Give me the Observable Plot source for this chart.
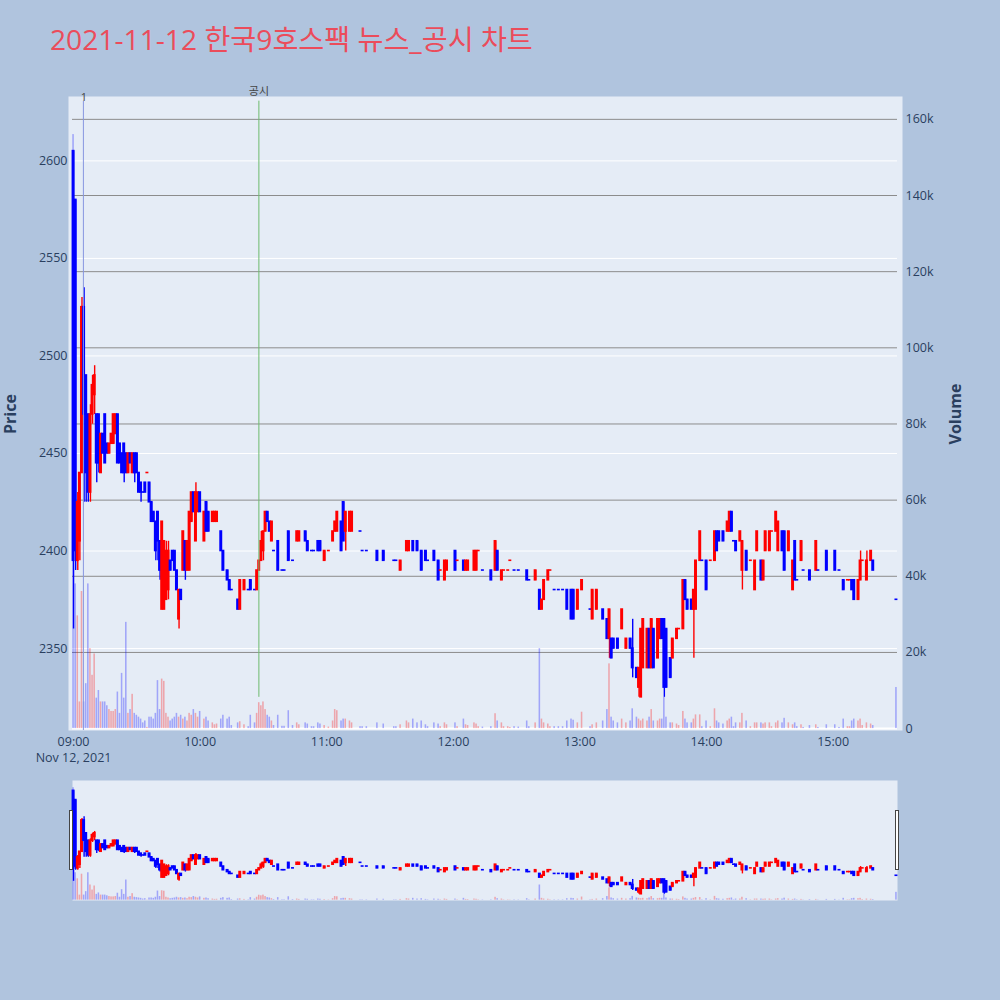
<!DOCTYPE html>
<html><head><meta charset="utf-8">
<script src="https://cdn.jsdelivr.net/npm/d3@7"></script>
<script src="https://cdn.jsdelivr.net/npm/@observablehq/plot@0.6"></script>
<style>
html,body{margin:0;padding:0;background:#B0C4DE;}
#page{position:relative;width:1000px;height:1000px;overflow:hidden;font-family:"Open Sans","Noto Sans CJK KR",sans-serif;}
#title{position:absolute;left:50px;top:25px;font-size:28.2px;line-height:28px;color:#EB4C5B;white-space:nowrap;}
.ytitle{position:absolute;font-size:16px;font-weight:bold;color:#2a3f5f;transform:translate(-50%,-50%) rotate(-90deg);white-space:nowrap;line-height:16px;}
#main{position:absolute;left:0;top:0;}
#slider{position:absolute;left:0;top:780px;}
.grab{position:absolute;top:810px;width:2px;height:58px;background:#fff;border:1px solid #444;}
</style></head>
<body><div id="page">
<div id="main"></div>
<div id="slider"></div>
<div id="title">2021-11-12 한국9호스팩 뉴스_공시 차트</div>
<div class="ytitle" style="left:9.5px;top:414px;">Price</div>
<div class="ytitle" style="left:955px;top:414px;">Volume</div>
<div class="grab" style="left:69px;"></div>
<div class="grab" style="left:895px;"></div>
</div>
<script>
const day = "2021-11-12";
const times = ["09:00","09:01","09:02","09:03","09:04","09:05","09:06","09:07","09:08","09:09","09:10","09:11","09:12","09:13","09:14","09:15","09:16","09:17","09:18","09:19","09:20","09:21","09:22","09:23","09:24","09:25","09:26","09:27","09:28","09:29","09:30","09:31","09:32","09:33","09:34","09:35","09:36","09:37","09:38","09:39","09:40","09:41","09:42","09:43","09:44","09:45","09:46","09:47","09:48","09:49","09:50","09:51","09:52","09:53","09:54","09:55","09:56","09:57","09:58","09:59","10:00","10:02","10:03","10:04","10:06","10:07","10:08","10:10","10:11","10:13","10:14","10:15","10:18","10:19","10:21","10:23","10:24","10:26","10:27","10:28","10:29","10:30","10:31","10:32","10:33","10:34","10:35","10:37","10:39","10:40","10:42","10:44","10:46","10:47","10:50","10:51","10:53","10:54","10:56","10:57","10:59","11:01","11:03","11:04","11:05","11:07","11:08","11:09","11:11","11:12","11:16","11:17","11:19","11:24","11:27","11:32","11:33","11:35","11:38","11:39","11:41","11:43","11:45","11:47","11:48","11:51","11:53","11:54","11:56","11:57","12:01","12:02","12:05","12:06","12:07","12:10","12:11","12:12","12:14","12:18","12:20","12:21","12:23","12:24","12:26","12:27","12:29","12:31","12:35","12:36","12:39","12:41","12:42","12:43","12:45","12:46","12:48","12:50","12:52","12:54","12:56","12:57","12:59","13:01","13:05","13:06","13:08","13:11","13:13","13:14","13:15","13:16","13:18","13:20","13:22","13:24","13:25","13:27","13:28","13:29","13:30","13:32","13:33","13:34","13:35","13:37","13:38","13:39","13:40","13:41","13:43","13:44","13:46","13:47","13:49","13:50","13:51","13:53","13:54","13:55","13:57","13:58","14:00","14:02","14:04","14:05","14:06","14:08","14:10","14:11","14:12","14:13","14:14","14:16","14:17","14:19","14:21","14:23","14:24","14:26","14:27","14:28","14:30","14:31","14:33","14:34","14:36","14:37","14:39","14:41","14:42","14:43","14:45","14:46","14:49","14:52","14:53","14:57","15:01","15:03","15:05","15:07","15:08","15:09","15:10","15:12","15:13","15:14","15:16","15:18","15:19","15:30"];
const open = [2605,2580,2395,2405,2440,2525,2490,2470,2430,2470,2480,2470,2470,2440,2460,2470,2455,2450,2455,2455,2460,2470,2455,2450,2455,2450,2440,2450,2440,2450,2450,2440,2435,2430,2435,2440,2435,2425,2420,2415,2420,2405,2370,2370,2375,2380,2395,2400,2400,2390,2365,2380,2390,2405,2390,2390,2415,2430,2405,2420,2430,2405,2425,2420,2415,2415,2415,2410,2400,2390,2385,2380,2375,2370,2380,2380,2385,2380,2380,2390,2395,2400,2410,2420,2415,2405,2400,2405,2390,2390,2410,2395,2405,2405,2410,2405,2400,2400,2405,2405,2395,2400,2405,2410,2410,2415,2425,2410,2410,2410,2410,2400,2400,2400,2400,2395,2395,2390,2400,2400,2405,2405,2400,2400,2395,2400,2395,2390,2385,2390,2400,2395,2395,2390,2390,2390,2390,2400,2390,2390,2390,2400,2385,2390,2390,2395,2390,2390,2390,2385,2385,2380,2370,2375,2385,2390,2380,2380,2380,2380,2380,2380,2370,2380,2370,2365,2370,2370,2365,2355,2355,2355,2355,2360,2350,2355,2350,2340,2330,2325,2340,2340,2360,2340,2360,2345,2355,2365,2365,2360,2345,2345,2355,2360,2360,2385,2375,2375,2370,2370,2395,2395,2395,2395,2395,2410,2410,2410,2410,2410,2420,2405,2405,2405,2390,2400,2395,2380,2400,2395,2385,2400,2400,2410,2410,2400,2410,2410,2400,2380,2405,2385,2395,2390,2390,2390,2390,2400,2400,2390,2385,2385,2385,2385,2385,2375,2385,2395,2385,2395,2395,2375];
const high = [2605,2580,2430,2440,2530,2535,2490,2470,2475,2490,2495,2470,2470,2460,2460,2470,2455,2455,2460,2470,2470,2470,2455,2450,2455,2450,2450,2450,2450,2450,2450,2440,2435,2430,2435,2440,2435,2425,2420,2415,2420,2405,2415,2405,2405,2405,2395,2400,2400,2390,2380,2380,2410,2405,2405,2420,2430,2430,2435,2430,2430,2420,2425,2420,2420,2420,2420,2410,2400,2390,2385,2380,2375,2385,2385,2380,2385,2380,2390,2395,2410,2410,2420,2420,2415,2415,2400,2405,2390,2390,2410,2395,2410,2410,2410,2405,2400,2400,2405,2405,2400,2400,2410,2415,2420,2415,2425,2420,2420,2420,2410,2400,2400,2400,2400,2395,2395,2395,2405,2405,2405,2405,2400,2400,2395,2400,2395,2390,2395,2395,2400,2395,2395,2395,2395,2400,2400,2400,2390,2390,2405,2400,2390,2390,2390,2395,2390,2390,2390,2385,2390,2380,2375,2385,2390,2390,2380,2380,2380,2380,2380,2380,2380,2385,2370,2380,2380,2370,2365,2370,2355,2355,2355,2370,2355,2355,2365,2340,2340,2360,2365,2360,2360,2365,2360,2365,2365,2365,2365,2360,2345,2355,2360,2360,2385,2385,2375,2375,2380,2395,2410,2395,2395,2395,2410,2410,2410,2410,2415,2420,2420,2405,2405,2410,2405,2400,2395,2395,2410,2395,2395,2410,2410,2410,2420,2415,2410,2410,2410,2395,2405,2385,2405,2390,2390,2405,2390,2400,2400,2390,2385,2385,2385,2385,2385,2385,2400,2395,2400,2400,2395,2375];
const low = [2360,2390,2390,2395,2440,2425,2425,2425,2425,2465,2470,2435,2440,2440,2450,2445,2450,2450,2455,2455,2460,2445,2445,2440,2435,2440,2440,2445,2440,2435,2440,2430,2425,2430,2430,2440,2425,2415,2415,2395,2395,2385,2370,2370,2375,2375,2390,2395,2390,2380,2360,2375,2390,2385,2390,2390,2415,2420,2405,2420,2420,2405,2410,2410,2415,2415,2415,2400,2390,2385,2380,2380,2370,2370,2380,2380,2380,2380,2380,2390,2395,2395,2410,2415,2410,2405,2400,2390,2390,2390,2395,2395,2405,2405,2405,2400,2400,2400,2400,2400,2395,2400,2405,2410,2410,2400,2405,2400,2410,2410,2410,2400,2400,2395,2395,2395,2395,2390,2400,2400,2400,2400,2390,2395,2395,2395,2385,2390,2385,2390,2390,2395,2390,2390,2390,2390,2390,2400,2390,2385,2390,2390,2385,2390,2390,2395,2390,2390,2385,2385,2385,2370,2370,2375,2385,2390,2380,2380,2380,2370,2365,2365,2370,2380,2370,2365,2370,2365,2355,2345,2345,2350,2350,2360,2350,2350,2335,2335,2325,2325,2340,2340,2340,2340,2340,2345,2355,2355,2325,2330,2335,2345,2355,2360,2360,2375,2370,2370,2345,2370,2395,2395,2380,2395,2395,2400,2405,2405,2410,2410,2410,2405,2400,2405,2380,2390,2395,2380,2400,2385,2385,2400,2400,2410,2410,2400,2400,2390,2400,2380,2385,2385,2395,2390,2385,2390,2390,2390,2390,2390,2380,2385,2385,2380,2375,2375,2385,2395,2385,2395,2390,2375];
const close = [2395,2400,2425,2440,2525,2470,2440,2430,2470,2485,2490,2445,2445,2460,2450,2445,2450,2455,2460,2470,2470,2445,2445,2440,2440,2440,2450,2445,2450,2440,2440,2430,2430,2430,2430,2440,2425,2415,2415,2400,2405,2390,2415,2405,2400,2400,2390,2395,2390,2380,2380,2375,2410,2390,2405,2420,2430,2420,2430,2430,2420,2420,2410,2410,2420,2420,2420,2400,2390,2385,2380,2380,2370,2385,2385,2380,2380,2380,2390,2395,2405,2410,2420,2415,2410,2415,2400,2390,2390,2390,2395,2395,2410,2410,2405,2400,2400,2400,2400,2400,2400,2400,2410,2415,2420,2400,2405,2420,2420,2420,2410,2400,2400,2395,2395,2395,2395,2395,2405,2405,2400,2400,2390,2395,2395,2395,2385,2390,2395,2395,2390,2395,2390,2395,2395,2400,2400,2400,2390,2385,2405,2390,2390,2390,2390,2395,2390,2390,2385,2385,2390,2370,2375,2385,2390,2390,2380,2380,2380,2370,2365,2365,2380,2385,2370,2380,2380,2365,2355,2370,2345,2350,2350,2370,2355,2350,2340,2335,2340,2360,2365,2360,2340,2365,2340,2365,2365,2355,2330,2330,2335,2355,2360,2360,2385,2375,2370,2370,2380,2395,2410,2395,2380,2395,2410,2400,2405,2405,2415,2420,2410,2405,2400,2410,2405,2390,2395,2395,2410,2385,2395,2410,2410,2410,2420,2415,2400,2390,2410,2395,2385,2385,2405,2390,2385,2405,2390,2390,2390,2390,2380,2385,2385,2380,2375,2385,2395,2395,2395,2400,2390,2375];
const volume = [156000,38000,29600,7000,36000,7000,11800,38000,21000,14000,19600,8000,10000,7000,7000,7000,6000,5000,4500,4500,5000,9600,4000,14500,8000,27900,4000,5000,9000,4000,3500,3000,2500,1500,2000,300,3000,3000,2500,4000,12600,5000,13000,12400,4000,3000,2000,2500,3000,4000,3000,3500,2500,3000,2000,4000,3500,5000,4000,3000,4500,2500,3000,2000,1500,1000,1200,2500,3500,2500,3000,800,1500,1800,1000,500,3500,1500,4000,6800,6000,7000,5000,3500,3000,2000,800,3500,600,600,4700,800,1500,1000,1500,1200,500,500,1500,1200,800,400,2000,5000,4700,2000,2500,2500,2000,1500,500,500,500,1500,1200,500,500,1000,2000,1500,2500,1500,2000,1000,500,1500,1200,500,1500,1000,1500,500,2500,1000,800,1500,1200,500,400,500,3900,2000,1500,500,500,300,500,400,2000,500,1500,21000,2500,1500,1200,500,500,500,500,2000,2500,2200,1500,4300,500,1000,1500,2000,5000,17000,3000,2000,1500,2500,1500,2000,5200,3000,2500,2000,2500,2000,3000,5000,2000,2000,2500,2500,8200,3000,1500,1500,1200,800,4500,2500,1500,1500,2500,3600,3600,500,2000,500,5200,2000,1500,1200,2000,2500,3000,500,1500,1500,4000,2000,500,1500,1500,1500,1200,1500,1500,500,1500,2000,1500,2700,1500,1000,1500,500,1000,300,800,1000,300,1000,1000,300,2500,500,500,2000,2500,2000,2500,800,1500,1200,800,10800];

const priceTicks = [2350, 2400, 2450, 2500, 2550, 2600];
const volumeTicks = [0, 20000, 40000, 60000, 80000, 100000, 120000, 140000, 160000];
const volumeTickLabels = ["0", "20k", "40k", "60k", "80k", "100k", "120k", "140k", "160k"];
const hourTicks = ["09:00", "10:00", "11:00", "12:00", "13:00", "14:00", "15:00"];
const dateLabel = "Nov 12, 2021";
const events = [{time: "09:04:40", label: "1"}, {time: "10:27:50", label: "공시"}];

const parse = s => d3.timeParse("%Y-%m-%d %H:%M:%S")(`${day} ${s.length === 5 ? s + ":00" : s}`);
const priceDomain = [2308, 2633];
const volumeDomain = [-500, 166000];
const v2p = v => priceDomain[0] + (v - volumeDomain[0]) / (volumeDomain[1] - volumeDomain[0]) * (priceDomain[1] - priceDomain[0]);
const xDomain = [parse("08:59:30"), parse("15:30:30")];

const UP = "#FF0000", DOWN = "#0000FF";
let prevDir = -1;
const data = times.map((t, i) => {
  const o = open[i], c = close[i];
  let dir;
  if (c > o) dir = 1; else if (c < o) dir = -1;
  else if (i > 0 && c > close[i - 1]) dir = 1;
  else if (i > 0 && c < close[i - 1]) dir = -1;
  else dir = prevDir;
  prevDir = dir;
  const d = parse(t);
  return {t: d, o, h: high[i], l: low[i], c, v: volume[i], dir,
    color: dir > 0 ? UP : DOWN,
    b1: Math.min(o, c), b2: Math.max(o, c),
    xa: new Date(+d - 42000), xb: new Date(+d + 42000),
    va: new Date(+d - 22000), vb: new Date(+d + 22000)};
});

function priceMarks() {
  return [
    Plot.rect(data, {x1: "va", x2: "vb", y1: () => v2p(0), y2: d => v2p(d.v), fill: "color", fillOpacity: 0.3}),
    Plot.ruleX(data, {x: "t", y1: "l", y2: "h", stroke: "color", strokeWidth: 1.4}),
    Plot.rect(data, {x1: "xa", x2: "xb", y1: "b1", y2: "b2", fill: "color", insetTop: -0.8, insetBottom: -0.8})
  ];
}

const font = "'Open Sans','Noto Sans CJK KR',sans-serif";
const fmt = d3.timeFormat("%H:%M");
const main = Plot.plot({
  width: 1000, height: 780,
  marginLeft: 72, marginRight: 103, marginTop: 96, marginBottom: 50,
  x: {type: "time", domain: xDomain},
  y: {domain: priceDomain},
  style: {fontFamily: font, fontSize: "12.5px", color: "#2a3f5f", background: "transparent", overflow: "visible"},
  marks: [
    Plot.frame({fill: "#E5ECF6", stroke: null, insetLeft: -4, insetRight: -5}),
    Plot.ruleY(priceTicks, {stroke: "#ffffff", strokeWidth: 1}),
    Plot.ruleY(volumeTicks.slice(1).map(v2p), {stroke: "#8c8c8c", strokeWidth: 1}),
    Plot.ruleY([v2p(0)], {stroke: "#ffffff", strokeWidth: 2}),
    ...priceMarks(),
    Plot.ruleX([events[0]], {x: d => parse(d.time), y1: priceDomain[1] - 2.4, y2: priceDomain[0], stroke: "#8796E0", strokeWidth: 1}),
    Plot.ruleX([events[1]], {x: d => parse(d.time), y1: priceDomain[1] - 2.4, y2: 2325, stroke: "#6DBB6D", strokeWidth: 1}),
    Plot.text([events[0]], {x: d => parse(d.time), y: priceDomain[1], text: "label", fill: "#444", fontSize: 11, dy: 0.5, dx: 0.5}),
    Plot.text([events[1]], {x: d => parse(d.time), y: priceDomain[1], text: "label", fill: "#444", fontSize: 11, dy: -5.5}),
    Plot.axisX({ticks: hourTicks.map(parse), tickFormat: fmt, tickSize: 0, tickPadding: 7, label: null, fontSize: 12.5}),
    Plot.text([dateLabel], {x: () => parse(hourTicks[0]), frameAnchor: "bottom", dy: 31, text: d => d, fill: "#2a3f5f", fontSize: 12.5}),
    Plot.axisY({anchor: "left", ticks: priceTicks, tickFormat: d => String(d), tickSize: 0, tickPadding: 5, label: null, fontSize: 12.5}),
    Plot.axisY({anchor: "right", ticks: volumeTicks.map(v2p), tickSize: 0, tickPadding: 8, label: null, fontSize: 12.5,
      tickFormat: d => volumeTickLabels[volumeTicks.findIndex(v => Math.abs(v2p(v) - d) < 1e-6)]})
  ]
});
document.getElementById("main").appendChild(main);

const slider = Plot.plot({
  width: 1000, height: 120,
  marginLeft: 72, marginRight: 103, marginTop: 0, marginBottom: 0,
  x: {type: "time", domain: xDomain, axis: null},
  y: {domain: priceDomain, axis: null},
  style: {background: "transparent", overflow: "visible"},
  marks: [
    Plot.frame({fill: "#E5ECF6", stroke: null}),
    ...priceMarks()
  ]
});
document.getElementById("slider").appendChild(slider);
</script>
</body></html>
